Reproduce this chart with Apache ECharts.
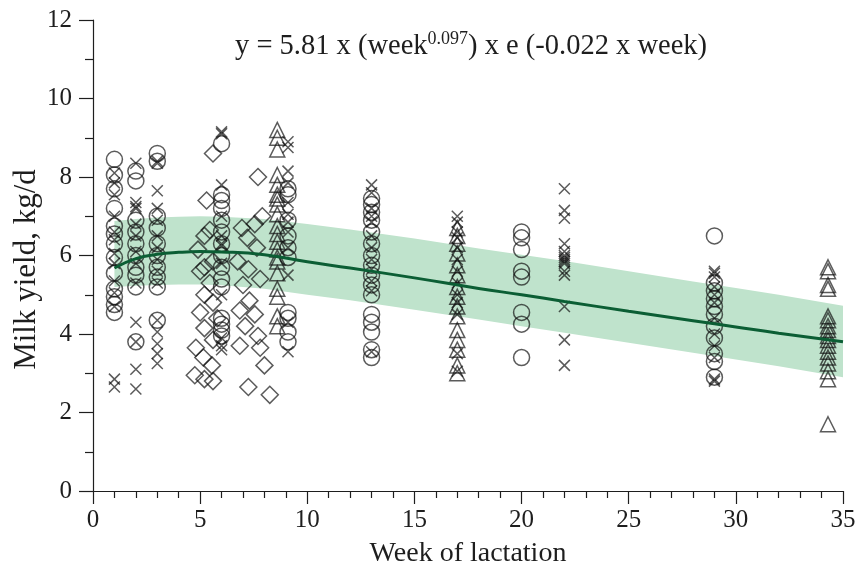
<!DOCTYPE html>
<html>
<head>
<meta charset="utf-8">
<script src="https://cdn.jsdelivr.net/npm/echarts@6/dist/echarts.min.js"></script>
<style>html,body{margin:0;padding:0;background:#fff;}#c{width:859px;height:568px;}</style>
</head>
<body>
<div id="c"></div>
<script>
// ---- data ----
const circlePts = [
  [1,8.45],[1,8.05],[1,7.7],[1,7.2],[1,6.75],[1,6.55],[1,6.3],[1,5.95],[1,5.55],[1,5.15],[1,4.95],[1,4.75],[1,4.55],
  [2,8.15],[2,7.9],[2,6.9],[2,6.6],[2,6.3],[2,6.0],[2,5.7],[2,5.5],[2,5.2],[2,3.8],
  [3,8.6],[3,8.4],[3,7.0],[3,6.7],[3,6.3],[3,6.0],[3,5.7],[3,5.45],[3,5.2],[3,4.35],
  [6,8.85],[6,7.55],[6,7.4],[6,7.2],[6,6.9],[6,6.6],[6,6.3],[6,6.0],[6,5.7],[6,5.4],[6,5.2],[6,4.4],[6,4.25],[6,4.1],[6,3.95],
  [9.1,7.7],[9.1,7.55],[9.1,6.9],[9.1,6.5],[9.1,6.2],[9.1,5.95],[9.1,4.55],[9.1,4.4],[9.1,4.05],[9.1,3.8],
  [13,7.45],[13,7.3],[13,7.1],[13,6.9],[13,6.6],[13,6.3],[13,6.0],[13,5.75],[13,5.5],[13,5.25],[13,5.0],[13,4.5],[13,4.3],[13,4.05],[13,3.6],[13,3.4],
  [20,6.6],[20,6.45],[20,6.15],[20,5.6],[20,5.45],[20,4.55],[20,4.25],[20,3.4],
  [29,6.5],[29,5.3],[29,5.1],[29,4.9],[29,4.7],[29,4.5],[29,4.2],[29,3.9],[29,3.5],[29,3.3],[29,2.9]
];
const crossPts = [
  [1,8.1],[1,7.85],[1,7.55],[1,7.0],[1,6.6],[1,6.4],[1,6.05],[1,5.8],[1,5.35],[1,5.05],[1,4.7],[1,2.85],[1,2.65],
  [2,8.35],[2,7.35],[2,7.25],[2,7.2],[2,6.8],[2,6.5],[2,6.1],[2,5.8],[2,5.3],[2,4.3],[2,3.8],[2,3.1],[2,2.6],
  [3,8.4],[3,8.35],[3,7.65],[3,7.2],[3,6.9],[3,6.5],[3,6.2],[3,5.9],[3,5.6],[3,5.3],[3,4.35],[3,4.05],[3,3.75],[3,3.5],[3,3.25],
  [6,9.15],[6,9.1],[6,7.8],[6,7.0],[6,6.5],[6,6.3],[6,6.25],[6,5.8],[6,5.0],[6,3.9],[6,3.7],[6,3.6],
  [9.1,8.9],[9.1,8.75],[9.1,8.15],[9.1,7.85],[9.1,7.35],[9.1,7.05],[9.1,6.85],[9.1,6.6],[9.1,6.2],[9.1,5.5],[9.1,4.3],[9.1,3.55],
  [13,7.8],[13,7.6],[13,7.2],[13,7.0],[13,6.85],[13,6.5],[13,6.2],[13,5.9],[13,5.65],[13,5.35],[13,5.1],[13,3.55],
  [17,7.0],[17,6.85],[17,6.6],[17,6.45],[17,6.2],[17,5.9],[17,5.6],[17,5.3],[17,5.0],[17,4.8],[17,4.5],[17,3.5],[17,3.05],
  [22,7.7],[22,7.15],[22,6.95],[22,6.3],[22,6.1],[22,6.0],[22,5.95],[22,5.9],[22,5.85],[22,5.8],[22,5.6],[22,5.5],[22,4.7],[22,3.85],[22,3.2],
  [29,5.6],[29,5.55],[29,5.45],[29,5.2],[29,5.0],[29,4.8],[29,4.4],[29,4.0],[29,3.7],[29,3.4],[29,2.85],[29,2.8]
];
const trianglePts = [
  [8.6,9.2],[8.6,9.0],[8.6,8.7],[8.6,8.05],[8.6,7.8],[8.6,7.55],[8.6,7.45],[8.6,7.3],[8.6,7.05],[8.6,6.75],[8.6,6.55],[8.6,6.35],[8.6,6.15],[8.6,5.95],[8.6,5.85],[8.6,5.55],[8.6,5.15],[8.6,4.95],[8.6,4.45],[8.6,4.2],
  [17,6.7],[17,6.5],[17,6.3],[17,6.05],[17,5.75],[17,5.5],[17,5.2],[17,4.95],[17,4.7],[17,4.45],[17,4.1],[17,3.85],[17,3.6],[17,3.2],[17,3.0],
  [34.3,5.7],[34.3,5.6],[34.3,5.25],[34.3,5.15],[34.3,4.45],[34.3,4.35],[34.3,4.2],[34.3,4.1],[34.3,3.95],[34.3,3.85],[34.3,3.7],[34.3,3.55],[34.3,3.4],[34.3,3.25],[34.3,3.05],[34.3,2.85],[34.3,1.7]
];
const diamondPts = [
  [5.6,8.6],[5.3,7.4],[5.45,6.65],[5.2,6.5],[4.9,6.15],[5.6,5.85],[5.2,5.7],[5.0,5.6],[5.45,5.3],[5.2,5.0],[5.6,4.8],[5.0,4.55],[5.8,4.4],[5.2,4.15],[5.6,3.85],[4.8,3.65],[5.15,3.4],[5.55,3.2],[4.75,2.95],[5.2,2.85],[5.6,2.8],
  [7.7,8.0],[7.9,7.0],[7.55,6.8],[6.95,6.7],[7.2,6.45],[7.65,6.2],[6.75,5.85],[7.25,5.65],[7.8,5.4],[7.0,5.25],[7.3,4.85],[6.85,4.6],[7.55,4.5],[7.1,4.2],[7.7,3.95],[6.85,3.7],[7.8,3.65],[8.0,3.2],[7.25,2.65],[8.25,2.45]
];
const curveWeeks = [1,2,3,4,5,6,8,10,12,15,18,20,22,25,28,30,32,35];
const curveVals  = [5.68,5.92,6.03,6.08,6.1,6.09,6.02,5.84,5.68,5.43,5.16,5.0,4.83,4.58,4.34,4.18,4.02,3.8];
const bandUpper  = [6.88,6.93,6.97,6.99,7.0,6.99,6.93,6.8,6.66,6.43,6.18,6.02,5.86,5.6,5.34,5.17,5.0,4.72];
const bandLower  = [5.2,5.23,5.25,5.26,5.26,5.24,5.15,5.0,4.86,4.62,4.37,4.2,4.03,3.78,3.52,3.35,3.18,2.9];
const xTicks = [0,5,10,15,20,25,30,35];
const yTicks = [0,2,4,6,8,10,12];

// ---- chart ----
const FONT = "'Liberation Serif','Times New Roman',serif";
const INK = '#1e1e1e';
const chart = echarts.init(document.getElementById('c'));
const mk = (name, symbol, size, data) => ({
  name, type: 'scatter', symbol, symbolSize: size, data, z: 3,
  itemStyle: { color: 'rgba(0,0,0,0)', borderColor: 'rgba(15,15,15,0.85)', borderWidth: 1.5 },
  emphasis: { disabled: true }
});
chart.setOption({
  animation: false,
  backgroundColor: '#fff',
  title: {
    text: '{a|y = 5.81 x (week}{s|0.097}{a|) x e (-0.022 x week)}',
    left: 230, top: 25,
    textStyle: {
      fontWeight: 'normal',
      rich: {
        a: { fontFamily: FONT, fontSize: 28.5, fontWeight: 'normal', color: INK, lineHeight: 31, verticalAlign: 'bottom' },
        s: { fontFamily: FONT, fontSize: 18, fontWeight: 'normal', color: INK, lineHeight: 31, verticalAlign: 'top' }
      }
    }
  },
  grid: { left: 93, right: 16, top: 20, bottom: 77, containLabel: false, outerBoundsMode: 'none' },
  xAxis: {
    type: 'value', min: 0, max: 35, interval: 5,
    name: 'Week of lactation', nameLocation: 'middle', nameGap: 49, nameMoveOverlap: false,
    nameTextStyle: { fontFamily: FONT, fontSize: 28, color: INK },
    axisLine: { onZero: false, lineStyle: { color: INK, width: 1.2 } },
    axisTick: { show: true, length: 13, lineStyle: { color: INK, width: 1.2 } },
    minorTick: { show: true, splitNumber: 5, length: 7, lineStyle: { color: INK, width: 1.2 } },
    axisLabel: { fontFamily: FONT, fontSize: 25, color: INK, margin: 17,
      formatter: v => xTicks.includes(v) ? String(v) : '' },
    splitLine: { show: false }
  },
  yAxis: {
    type: 'value', min: 0, max: 12, interval: 2,
    name: 'Milk yield, kg/d', nameLocation: 'middle', nameGap: 51, nameRotate: 90, nameMoveOverlap: false,
    nameTextStyle: { fontFamily: FONT, fontSize: 31, color: INK, padding: [0, 28, 0, 0] },
    axisLine: { show: true, onZero: false, lineStyle: { color: INK, width: 1.2 } },
    axisTick: { show: true, length: 14, lineStyle: { color: INK, width: 1.2 } },
    minorTick: { show: true, splitNumber: 2, length: 8, lineStyle: { color: INK, width: 1.2 } },
    axisLabel: { fontFamily: FONT, fontSize: 25, color: INK, margin: 21,
      formatter: v => yTicks.includes(v) ? String(v) : '' },
    splitLine: { show: false }
  },
  series: [
    {
      name: 'band', type: 'custom', z: 1, silent: true,
      data: [[0, 0]],
      renderItem: (params, api) => {
        const pts = [];
        for (let i = 0; i < curveWeeks.length; i++) pts.push(api.coord([curveWeeks[i], bandUpper[i]]));
        for (let i = curveWeeks.length - 1; i >= 0; i--) pts.push(api.coord([curveWeeks[i], bandLower[i]]));
        return { type: 'polygon', shape: { points: pts }, style: { fill: '#bfe3cc' } };
      }
    },
    mk('diamond', 'diamond', 17, diamondPts),
    mk('circle', 'circle', 16, circlePts),
    mk('triangle', 'triangle', 15, trianglePts),
    mk('cross', 'path://M0,0L10,10M10,0L0,10', 11, crossPts),
    {
      name: 'fit', type: 'line', smooth: true, showSymbol: false, symbol: 'none', z: 4,
      data: curveWeeks.map((w, i) => [w, curveVals[i]]),
      lineStyle: { color: '#0b5e34', width: 3 }
    }
  ]
});
</script>
</body>
</html>
